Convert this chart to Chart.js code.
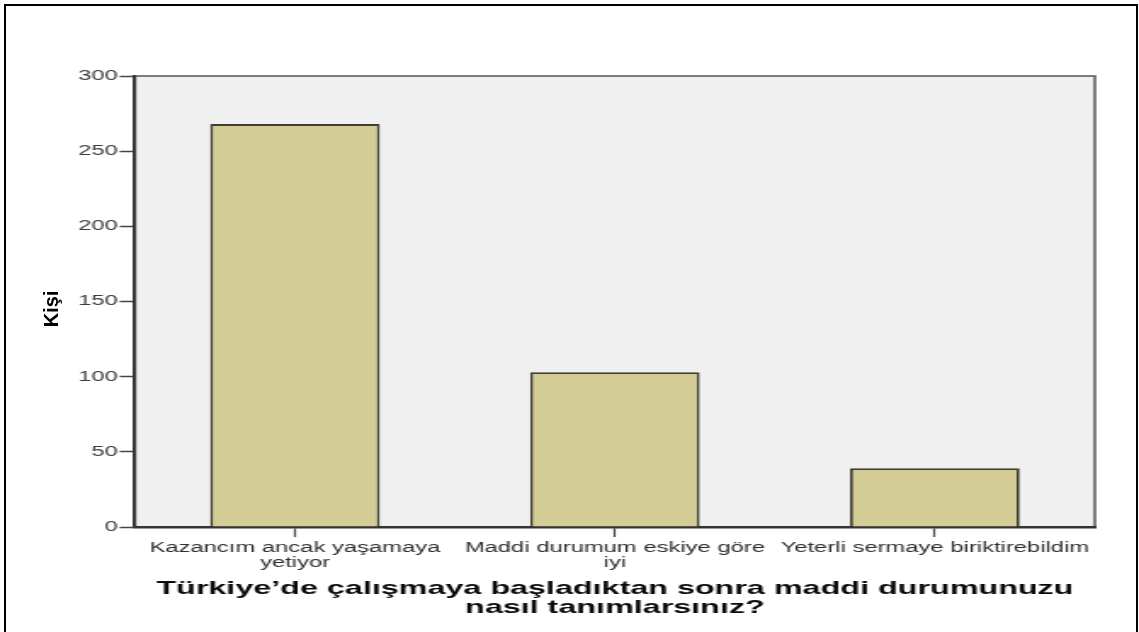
<!DOCTYPE html>
<html lang="tr">
<head>
<meta charset="utf-8">
<script src="https://cdn.jsdelivr.net/npm/chart.js@4"></script>
<style>
html, body { margin: 0; padding: 0; background: #fff; overflow: hidden; }
#wrap { position: relative; width: 1139px; height: 632px; overflow: hidden; }
#chart { position: absolute; left: 0; top: 0; }
#frame { position: absolute; left: 4px; top: 4px; width: 1130px; height: 700px; border: 2px solid #000; }
#ytitle { position: absolute; left: 51px; top: 309px; transform: translate(-50%, -50%) rotate(-90deg);
          font: bold 20px "Liberation Sans", Arial, sans-serif; color: #000; white-space: nowrap; }
</style>
</head>
<body>
<div id="wrap">
    <!-- SPSS çıktısı yatayda gerilmiş, canvas da aynı oranda geriliyor -->
    <canvas id="chart" width="670" height="632" style="width:1139px;height:632px"></canvas>
    <div id="frame"></div>
    <div id="ytitle"></div>
</div>
<script>
// veriler
const categories = [["Kazancım ancak yaşamaya", "yetiyor"], ["Maddi durumum eskiye göre", "iyi"], "Yeterli sermaye biriktirebildim"];
const kisiSayisi = [268, 103, 39];
const yTicks = [0, 50, 100, 150, 200, 250, 300];
const xTitle = ["Türkiye’de çalışmaya başladıktan sonra maddi durumunuzu", "nasıl tanımlarsınız?"];
const yTitle = "Kişi";

document.getElementById("ytitle").textContent = yTitle;

const fontName = "'Liberation Sans', Arial, sans-serif";

// gri çizim alanı + çerçeve
const plotBg = {
    id: 'plotBg',
    beforeDraw(chart) {
        const ctx = chart.ctx;
        const a = chart.chartArea;
        ctx.save();
        ctx.fillStyle = '#f0f0f0';
        ctx.fillRect(a.left, a.top, a.right - a.left, a.bottom - a.top);
        ctx.strokeStyle = '#5e5e5e';
        ctx.lineWidth = 1.6;
        ctx.strokeRect(a.left, a.top, a.right - a.left, a.bottom - a.top);
        ctx.restore();
    }
};

new Chart(document.getElementById("chart"), {
    type: 'bar',
    data: {
        labels: categories,
        datasets: [{
            label: yTitle,
            data: kisiSayisi,
            backgroundColor: '#d3cd95',
            borderColor: '#3f3e30',
            borderWidth: 1.8,
            barPercentage: 0.53,
            categoryPercentage: 1
        }]
    },
    options: {
        responsive: false,
        animation: false,
        devicePixelRatio: 1,
        layout: { padding: { left: 0, right: 26, top: 76, bottom: 0 } },
        plugins: { legend: { display: false }, tooltip: { enabled: false } },
        scales: {
            x: {
                grid: { offset: false, drawOnChartArea: false, tickLength: 10, tickColor: '#444', tickWidth: 1.2 },
                border: { color: '#333', width: 2.5 },
                ticks: {
                    color: '#2e2e2e', padding: 3, maxRotation: 0, autoSkip: false,
                    font: { family: fontName, size: 14, lineHeight: 1.1 }
                },
                title: {
                    display: true, text: xTitle, color: '#0a0a0a',
                    font: { family: fontName, size: 19, weight: 'bold', lineHeight: 1 },
                    padding: { top: 0, bottom: 15 }
                },
                afterFit: function (s) { s.height = 105; }
            },
            y: {
                min: yTicks[0],
                max: yTicks[yTicks.length - 1],
                afterBuildTicks: function (s) { s.ticks = yTicks.map(v => ({ value: v })); },
                grid: { drawOnChartArea: false, tickLength: 9, tickColor: '#444', tickWidth: 1.5 },
                border: { color: '#383838', width: 2 },
                ticks: { color: '#3c3c3c', padding: 1, font: { family: fontName, size: 14 } },
                afterFit: function (s) { s.width = 79.4; }
            }
        }
    },
    plugins: [plotBg]
});
</script>
</body>
</html>
